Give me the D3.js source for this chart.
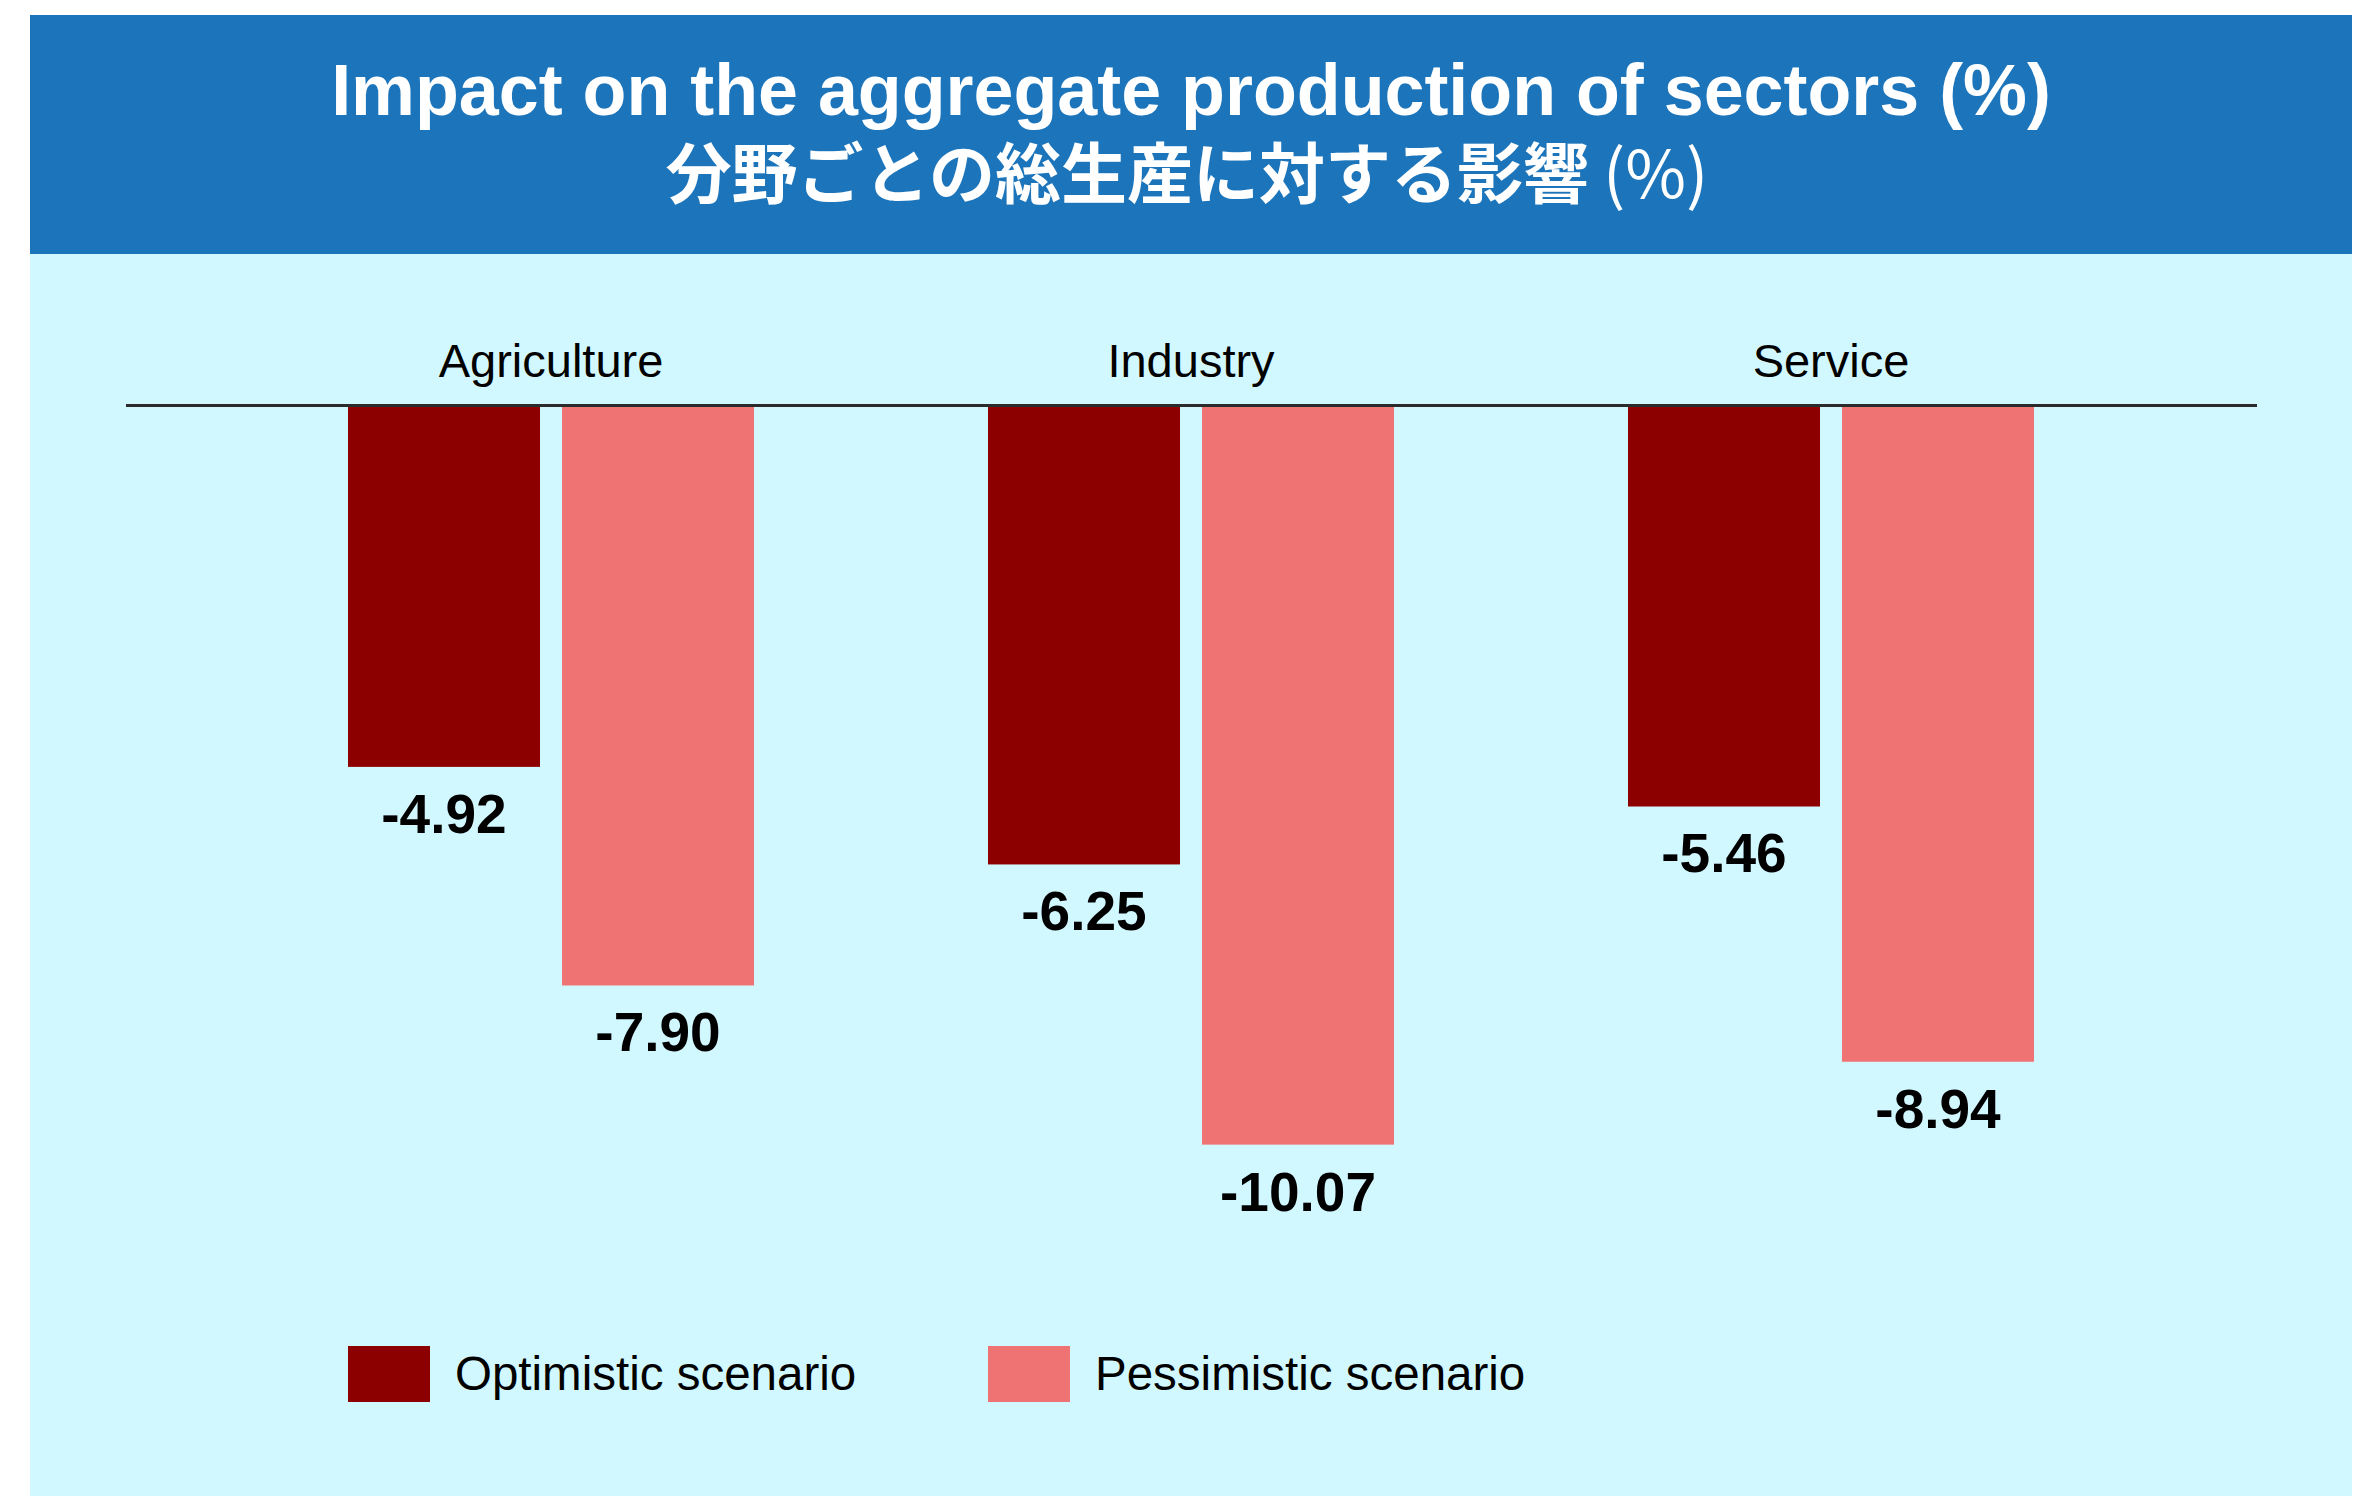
<!DOCTYPE html>
<html>
<head>
<meta charset="utf-8">
<script src="https://cdn.jsdelivr.net/npm/d3@7"></script>
<style>
    body { margin: 0; background: #ffffff; }
    svg { display: block; }
</style>
</head>
<body>
<div id="chartContainer"></div>
<script>
// Chart data
const sectors = ["Agriculture", "Industry", "Service"];
const scenarios = ["Optimistic scenario", "Pessimistic scenario"];
const optimistic = [-4.92, -6.25, -5.46];
const pessimistic = [-7.90, -10.07, -8.94];
const titleEn = "Impact on the aggregate production of sectors (%)";
const titleJa = "分野ごとの総生産に対する影響";
const titleJaUnit = "(%)";

function init() {
    const W = 2372, H = 1496;
    const colors = ["#8c0000", "#ef7373"];
    const latin = "'Liberation Sans', Arial, Helvetica, sans-serif";
    const cjk = "'Noto Sans CJK JP', 'Noto Sans', sans-serif";

    const svg = d3.select("#chartContainer").append("svg")
        .attr("width", W)
        .attr("height", H);

    // Header band and light panel
    svg.append("rect")
        .attr("x", 30).attr("y", 15)
        .attr("width", 2322).attr("height", 239)
        .attr("fill", "#1c75bb");

    svg.append("rect")
        .attr("x", 30).attr("y", 254)
        .attr("width", 2322).attr("height", H - 254)
        .attr("fill", "#d2f8ff");

    // Shrink/grow a text's font so it spans the wanted width
    function fitText(sel, target) {
        const size = parseFloat(sel.attr("font-size"));
        const len = sel.node().getComputedTextLength();
        sel.attr("font-size", size * target / len);
    }

    const t1 = svg.append("text")
        .attr("x", 1191).attr("y", 115)
        .attr("text-anchor", "middle")
        .attr("font-family", latin)
        .attr("font-weight", "bold")
        .attr("font-size", 71)
        .attr("fill", "#ffffff")
        .text(titleEn);
    fitText(t1, 1720);

    const t2 = svg.append("text")
        .attr("x", 1187).attr("y", 198)
        .attr("text-anchor", "middle")
        .attr("font-family", cjk)
        .attr("font-weight", "bold")
        .attr("font-size", 66)
        .attr("fill", "#ffffff");
    t2.append("tspan").text(titleJa);
    t2.append("tspan").attr("dx", 14).attr("font-weight", "normal").text(titleJaUnit);

    // Scales
    const x0 = d3.scaleBand()
        .domain(sectors)
        .range([231, 2151])
        .padding(0);

    const x1 = d3.scaleBand()
        .domain(scenarios)
        .range([0, x0.bandwidth()])
        .paddingInner(0.1028)
        .paddingOuter(0.5467);

    const y = d3.scaleLinear()
        .domain([0, -10])
        .range([406, 406 + 733.5]);

    const rows = sectors.map((s, i) => ({
        sector: s,
        values: [optimistic[i], pessimistic[i]]
    }));

    // Category labels above the zero line
    svg.append("g")
        .selectAll("text")
        .data(sectors)
        .join("text")
        .attr("x", d => x0(d) + x0.bandwidth() / 2)
        .attr("y", 377)
        .attr("text-anchor", "middle")
        .attr("font-family", latin)
        .attr("font-size", 47)
        .attr("fill", "#000000")
        .text(d => d);

    // Bars
    const groups = svg.append("g")
        .selectAll("g")
        .data(rows)
        .join("g")
        .attr("transform", d => `translate(${x0(d.sector)},0)`);

    groups.selectAll("rect")
        .data(d => d.values.map((v, j) => ({ key: scenarios[j], value: v, j: j })))
        .join("rect")
        .attr("x", d => x1(d.key))
        .attr("y", y(0))
        .attr("width", x1.bandwidth())
        .attr("height", d => y(d.value) - y(0))
        .attr("fill", d => colors[d.j]);

    // Value labels under each bar
    groups.selectAll("text")
        .data(d => d.values.map((v, j) => ({ key: scenarios[j], value: v })))
        .join("text")
        .attr("x", d => x1(d.key) + x1.bandwidth() / 2)
        .attr("y", d => y(d.value) + 66)
        .attr("text-anchor", "middle")
        .attr("font-family", latin)
        .attr("font-weight", "bold")
        .attr("font-size", 55)
        .attr("fill", "#000000")
        .text(d => d3.format(".2f")(d.value).replace("−", "-"));

    // Zero line
    svg.append("line")
        .attr("x1", 126).attr("x2", 2257)
        .attr("y1", y(0) - 0.5).attr("y2", y(0) - 0.5)
        .attr("stroke", "#2b2b2b")
        .attr("stroke-width", 3);

    // Legend, aligned with the first bar of the first two groups
    const legend = svg.append("g")
        .selectAll("g")
        .data(scenarios)
        .join("g")
        .attr("transform", (d, i) => `translate(${x0(sectors[i]) + x1(scenarios[0])},1346)`);

    legend.append("rect")
        .attr("width", 82)
        .attr("height", 56)
        .attr("fill", (d, i) => colors[i]);

    legend.append("text")
        .attr("x", 107)
        .attr("y", 44)
        .attr("font-family", latin)
        .attr("font-size", 47.5)
        .attr("fill", "#000000")
        .text(d => d);
}
window.onload = init;
</script>
</body>
</html>
